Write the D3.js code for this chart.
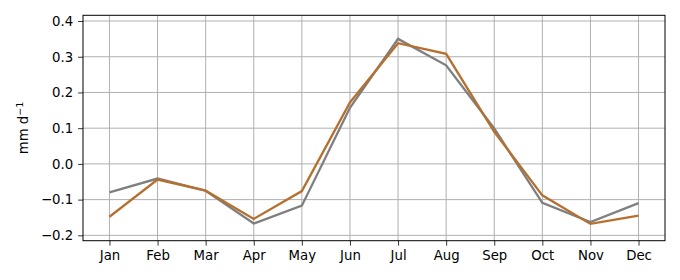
<!DOCTYPE html>
<html>
<head>
<meta charset="utf-8">
<script src="https://cdn.jsdelivr.net/npm/d3@7"></script>
<style>
  body { margin: 0; background: #fff; }
  svg text { font-family: "DejaVu Sans", sans-serif; }
</style>
</head>
<body>
<svg id="chart"></svg>
<script>
var months = ["Jan", "Feb", "Mar", "Apr", "May", "Jun", "Jul", "Aug", "Sep", "Oct", "Nov", "Dec"];
var grayValues = [-0.080, -0.041, -0.075, -0.167, -0.117, 0.157, 0.350, 0.276, 0.099, -0.109, -0.163, -0.110];
var orangeValues = [-0.148, -0.044, -0.075, -0.154, -0.076, 0.172, 0.338, 0.308, 0.090, -0.088, -0.168, -0.145];
var yTicks = [-0.2, -0.1, 0.0, 0.1, 0.2, 0.3, 0.4];

var width = 680;
var height = 280;
var margin = {left: 83, right: 15, top: 15.3, bottom: 39.3};

var svg = d3.select("#chart")
    .attr("width", width)
    .attr("height", height);

var x = d3.scaleLinear()
    .domain([-0.55, 11.55])
    .range([margin.left, width - margin.right]);

var y = d3.scaleLinear()
    .domain([-0.215, 0.416])
    .range([height - margin.bottom, margin.top]);

// grid
svg.append("g")
    .selectAll("line")
    .data(d3.range(12))
    .join("line")
        .attr("x1", d => x(d)).attr("x2", d => x(d))
        .attr("y1", margin.top).attr("y2", height - margin.bottom)
        .attr("stroke", "#b0b0b0")
        .attr("stroke-width", 1);

svg.append("g")
    .selectAll("line")
    .data(yTicks)
    .join("line")
        .attr("x1", margin.left).attr("x2", width - margin.right)
        .attr("y1", d => y(d)).attr("y2", d => y(d))
        .attr("stroke", "#b0b0b0")
        .attr("stroke-width", 1);

var line = d3.line()
    .x((d, i) => x(i))
    .y(d => y(d));

svg.append("path")
    .datum(grayValues)
    .attr("d", line)
    .attr("fill", "none")
    .attr("stroke", "#7f7f7f")
    .attr("stroke-width", 2.3);

svg.append("path")
    .datum(orangeValues)
    .attr("d", line)
    .attr("fill", "none")
    .attr("stroke", "#b5702f")
    .attr("stroke-width", 2.3);

// axes
var xAxis = d3.axisBottom(x)
    .tickValues(d3.range(12))
    .tickFormat(i => months[i])
    .tickSize(4.9)
    .tickPadding(4.9);

var yAxis = d3.axisLeft(y)
    .tickValues(yTicks)
    .tickFormat(d => d3.format(".1f")(d).replace("-", "\u2212"))
    .tickSize(4.9)
    .tickPadding(4.9);

var gx = svg.append("g")
    .attr("transform", `translate(0,${height - margin.bottom})`)
    .call(xAxis);

var gy = svg.append("g")
    .attr("transform", `translate(${margin.left},0)`)
    .call(yAxis);

[gx, gy].forEach(g => {
    g.select(".domain").remove();
    g.selectAll("line").attr("stroke", "#000").attr("stroke-width", 0.8);
    g.selectAll("text")
        .attr("fill", "#000")
        .style("font-size", "13.3px")
        .style("font-family", "DejaVu Sans, sans-serif");
});

// frame
svg.append("rect")
    .attr("x", margin.left)
    .attr("y", margin.top)
    .attr("width", width - margin.left - margin.right)
    .attr("height", height - margin.top - margin.bottom)
    .attr("fill", "none")
    .attr("stroke", "#000")
    .attr("stroke-width", 1);

// y label
var yl = svg.append("text")
    .attr("transform", `translate(28,${(margin.top + height - margin.bottom) / 2}) rotate(-90)`)
    .attr("text-anchor", "middle")
    .style("font-size", "13.3px")
    .attr("fill", "#000");
yl.append("tspan").text("mm d");
yl.append("tspan")
    .attr("dy", -5)
    .style("font-size", "9.5px")
    .text("\u22121");
</script>
</body>
</html>
